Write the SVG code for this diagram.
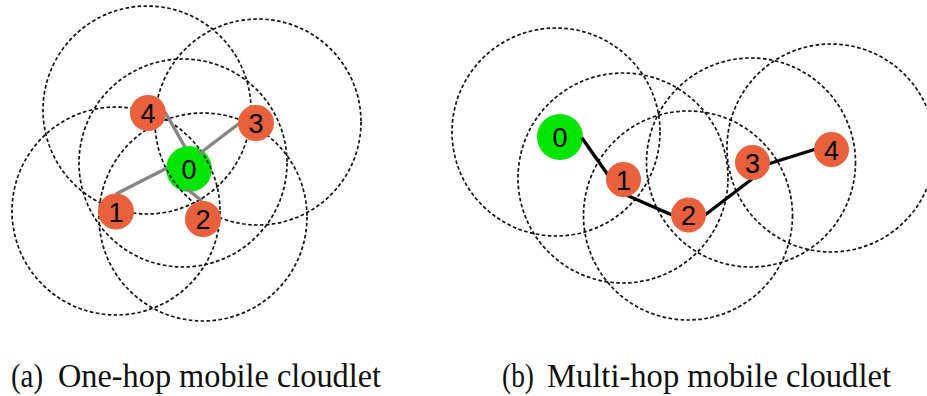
<svg xmlns="http://www.w3.org/2000/svg" width="927" height="396" viewBox="0 0 927 396">
  <style>
    .range { fill: none; stroke: #111; stroke-width: 1.7; stroke-dasharray: 3.6 2.4; }
    .hop1 { stroke: #858585; stroke-width: 3.4; stroke-linecap: butt; }
    .hopn { stroke: #000; stroke-width: 3.4; stroke-linecap: butt; }
    .head { fill: #00e600; }
    .member { fill: #e9603d; }
    .num { font-family: "Liberation Sans", Arial, sans-serif; font-size: 27px; fill: #000; text-anchor: middle; }
    .caption { font-family: "Liberation Serif", "Times New Roman", serif; font-size: 33px; fill: #111; }
  </style>

  <!-- (a) one-hop cloudlet: every member links straight to node 0 -->
  <g id="a-n0">
    <circle class="head" cx="189" cy="169" r="23"/>
    <text class="num" x="189" y="179">0</text>
  </g>
  <g id="a-ranges">
    <circle class="range" cx="183" cy="163" r="104"/>
    <circle class="range" cx="116" cy="211" r="104"/>
    <circle class="range" cx="203" cy="217" r="104"/>
    <circle class="range" cx="258" cy="122" r="103"/>
    <circle class="range" cx="147" cy="110" r="104"/>
  </g>
  <g id="a-links">
    <line class="hop1" x1="165" y1="112" x2="185" y2="147"/>
    <line class="hop1" x1="199" y1="154" x2="241" y2="122"/>
    <line class="hop1" x1="116" y1="194" x2="167" y2="168"/>
    <line class="hop1" x1="187" y1="189" x2="202" y2="201"/>
  </g>
  <g id="a-n1">
    <circle class="member" cx="116" cy="211.5" r="18"/>
    <text class="num" x="116" y="221.5">1</text>
  </g>
  <g id="a-n2">
    <circle class="member" cx="203" cy="219" r="18"/>
    <text class="num" x="203" y="229">2</text>
  </g>
  <g id="a-n3">
    <circle class="member" cx="256" cy="123" r="18"/>
    <text class="num" x="256" y="133">3</text>
  </g>
  <g id="a-n4">
    <circle class="member" cx="148" cy="113" r="18"/>
    <text class="num" x="148" y="123">4</text>
  </g>

  <!-- (b) multi-hop cloudlet: a chain 0-1-2-3-4 -->
  <g id="b-n0">
    <circle class="head" cx="560" cy="137" r="23"/>
    <text class="num" x="560" y="147">0</text>
  </g>
  <g id="b-ranges">
    <circle class="range" cx="556" cy="132" r="104"/>
    <circle class="range" cx="623" cy="178" r="105"/>
    <circle class="range" cx="688" cy="215.5" r="104.5"/>
    <circle class="range" cx="751" cy="162.5" r="104.5"/>
    <circle class="range" cx="831" cy="148" r="104"/>
  </g>
  <g id="b-links">
    <line class="hopn" x1="582" y1="138" x2="608" y2="175"/>
    <line class="hopn" x1="624" y1="194" x2="672" y2="215"/>
    <line class="hopn" x1="705" y1="215" x2="752" y2="179"/>
    <line class="hopn" x1="768" y1="164" x2="816" y2="149"/>
  </g>
  <g id="b-n1">
    <circle class="member" cx="623.5" cy="179.5" r="17.5"/>
    <text class="num" x="623.5" y="189.5">1</text>
  </g>
  <g id="b-n2">
    <circle class="member" cx="688.5" cy="215" r="17.5"/>
    <text class="num" x="688.5" y="225">2</text>
  </g>
  <g id="b-n3">
    <circle class="member" cx="752.5" cy="162.5" r="17.5"/>
    <text class="num" x="752.5" y="172.5">3</text>
  </g>
  <g id="b-n4">
    <circle class="member" cx="831.5" cy="149.5" r="17.5"/>
    <text class="num" x="831.5" y="159.5">4</text>
  </g>

  <!-- sub-figure captions -->
  <text class="caption" y="387"><tspan x="11" textLength="32" lengthAdjust="spacingAndGlyphs">(a)</tspan><tspan x="58" textLength="323" lengthAdjust="spacingAndGlyphs">One-hop mobile cloudlet</tspan></text>
  <text class="caption" y="387"><tspan x="502" textLength="32" lengthAdjust="spacingAndGlyphs">(b)</tspan><tspan x="547" textLength="344" lengthAdjust="spacingAndGlyphs">Multi-hop mobile cloudlet</tspan></text>
</svg>
